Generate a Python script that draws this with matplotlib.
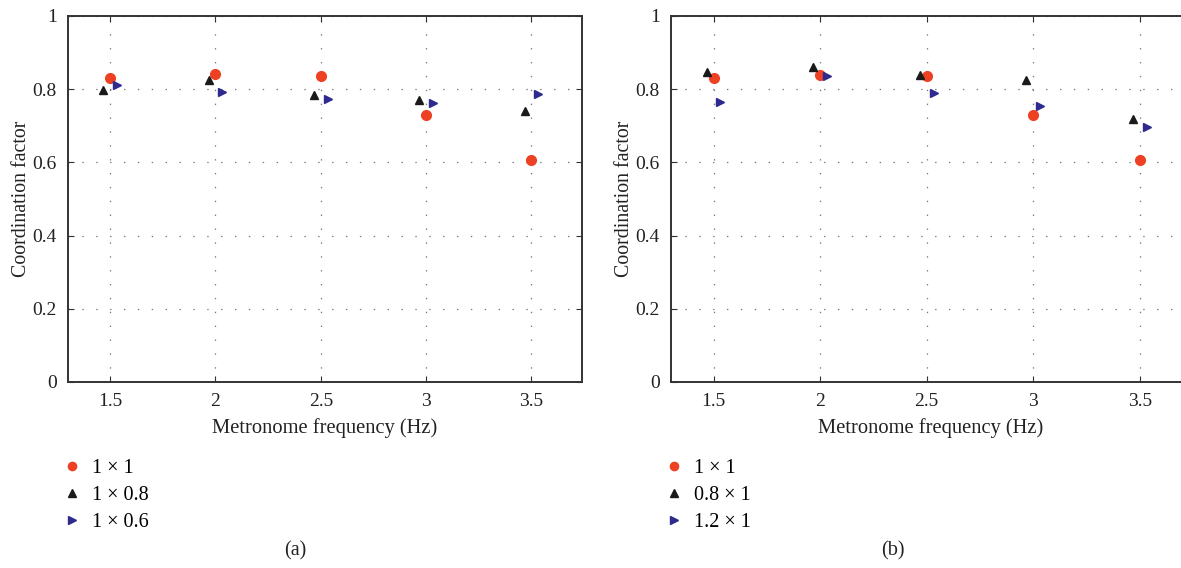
"""Coordination factor vs metronome frequency, two panels."""

import matplotlib
matplotlib.use("Agg")
import matplotlib.pyplot as plt

# data
freqs = [1.5, 2.0, 2.5, 3.0, 3.5]

a_1x1 = [0.831, 0.841, 0.836, 0.730, 0.607]
a_1x08 = [0.797, 0.825, 0.785, 0.771, 0.741]
a_1x06 = [0.812, 0.791, 0.773, 0.763, 0.787]

b_1x1 = [0.831, 0.840, 0.835, 0.730, 0.607]
b_08x1 = [0.847, 0.860, 0.838, 0.826, 0.719]
b_12x1 = [0.766, 0.837, 0.790, 0.754, 0.696]

labels_a = ["1 \u00d7 1", "1 \u00d7 0.8", "1 \u00d7 0.6"]
labels_b = ["1 \u00d7 1", "0.8 \u00d7 1", "1.2 \u00d7 1"]

RED = "#EE4123"
BLACK = "#1a1a1a"
BLUE = "#2E2A8E"
TXT = "#222222"
SHIFT = 0.032

plt.rcParams["font.family"] = ["Liberation Serif", "DejaVu Serif"]
plt.rcParams["font.size"] = 14

fig = plt.figure(figsize=(11.81, 5.68), dpi=100)
W, H = 1181, 568


def px_axes(left, top, right, bottom):
    return fig.add_axes([left / W, 1 - bottom / H, (right - left) / W, (bottom - top) / H])


def panel(ax, s1, s2, s3, labels, leg_x, cap_x, cap):
    x_l = [f - SHIFT for f in freqs]
    x_r = [f + SHIFT for f in freqs]
    ax.plot(freqs, s1, "o", color=RED, markersize=7, label=labels[0], zorder=3)
    ax.plot(x_l, s2, "^", color=BLACK, markersize=6, label=labels[1], zorder=3)
    ax.plot(x_r, s3, ">", color=BLUE, markersize=6, label=labels[2], zorder=3)

    ax.set_xlim(1.3, 3.74)
    ax.set_ylim(0, 1)
    ax.set_xticks(freqs)
    ax.set_xticklabels(["1.5", "2", "2.5", "3", "3.5"])
    ax.set_yticks([0, 0.2, 0.4, 0.6, 0.8, 1])
    ax.set_yticklabels(["0", "0.2", "0.4", "0.6", "0.8", "1"])
    ax.grid(True, color="#777777", linestyle=(0, (1.1, 10)), linewidth=0.9)
    ax.tick_params(direction="in", top=True, right=True, length=4,
                   colors="#333333", labelcolor=TXT, labelsize=14, pad=8)
    for sp in ax.spines.values():
        sp.set_color("#333333")
        sp.set_linewidth(1.4)

    ax.set_xlabel("Metronome frequency (Hz)", color=TXT, fontsize=14.8, labelpad=6)
    ax.set_ylabel("Coordination factor", color=TXT, fontsize=14.3, labelpad=1)

    ax.legend(loc="upper left", bbox_to_anchor=(leg_x / W, 1 - 459 / H),
              bbox_transform=fig.transFigure, frameon=False, fontsize=14.5,
              handlelength=0.6, handletextpad=0.7, labelspacing=0.38,
              borderaxespad=0, borderpad=0, markerscale=0.85)
    fig.text(cap_x / W, 1 - 551 / H, cap, ha="center", va="center",
             color=TXT, fontsize=14.5)


ax1 = px_axes(68, 16, 582, 382)
panel(ax1, a_1x1, a_1x08, a_1x06, labels_a, 66, 295, "(a)")

ax2 = px_axes(671, 16, 1191, 382)
panel(ax2, b_1x1, b_08x1, b_12x1, labels_b, 668, 893, "(b)")

plt.savefig("out.png", dpi=100)
print("Saved out.png")
